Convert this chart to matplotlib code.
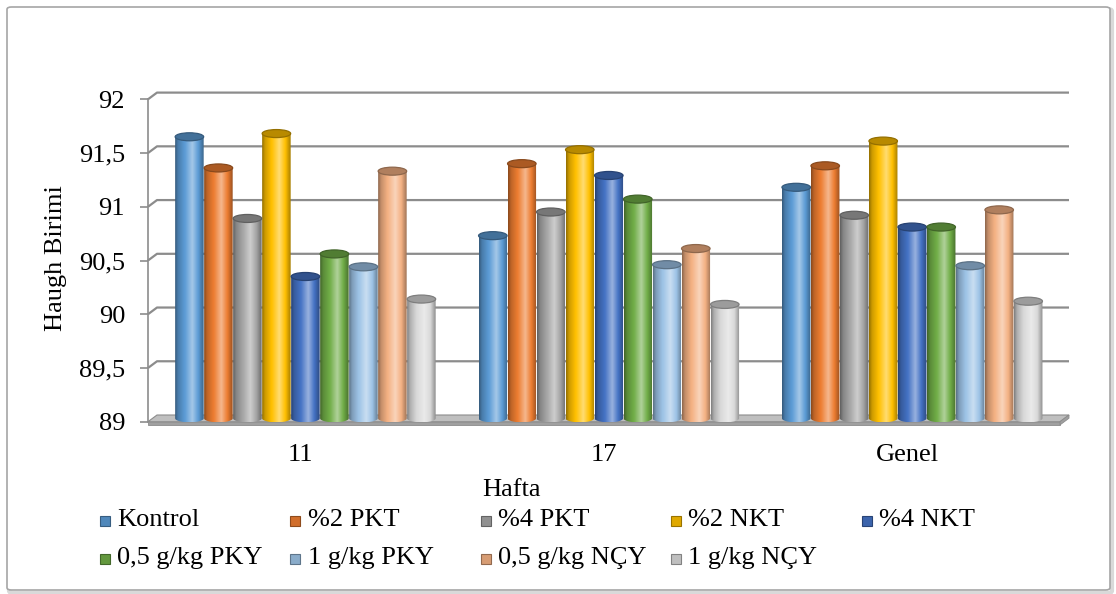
import numpy as np
import matplotlib
matplotlib.use("Agg")
import matplotlib.pyplot as plt
from matplotlib.patches import Ellipse, Polygon, Rectangle, FancyBboxPatch
from matplotlib.colors import to_rgb

plt.rcParams["font.family"] = ["Liberation Serif", "DejaVu Serif"]

# Haugh birimi, haftalara gore
haftalar = ["11", "17", "Genel"]
gruplar = ["Kontrol", "%2 PKT", "%4 PKT", "%2 NKT", "%4 NKT",
           "0,5 g/kg PKY", "1 g/kg PKY", "0,5 g/kg NÇY", "1 g/kg NÇY"]
kontrol = [91.62, 90.70, 91.15]
pkt2 = [91.33, 91.37, 91.35]
pkt4 = [90.86, 90.92, 90.89]
nkt2 = [91.65, 91.50, 91.58]
nkt4 = [90.32, 91.26, 90.78]
pky05 = [90.53, 91.04, 90.78]
pky1 = [90.41, 90.43, 90.42]
ncy05 = [91.30, 90.58, 90.94]
ncy1 = [90.11, 90.06, 90.09]
seriler = [kontrol, pkt2, pkt4, nkt2, nkt4, pky05, pky1, ncy05, ncy1]
renkler = ["#5B9BD5", "#ED7D31", "#A5A5A5", "#FFC000", "#4472C4",
           "#70AD47", "#9DC3E6", "#F4B183", "#D9D9D9"]
y_ticks = [89, 89.5, 90, 90.5, 91, 91.5, 92]
y_etiket = ["89", "89,5", "90", "90,5", "91", "91,5", "92"]

W, H = 1116, 594
FS = 19
fig = plt.figure(figsize=(W / 100, H / 100), dpi=100)

# cerceve
fig.add_artist(FancyBboxPatch((9 / W, 1 - 593 / H), 1103 / W, 584 / H,
                              boxstyle="round,pad=0,rounding_size=0.004",
                              transform=fig.transFigure, fc="none",
                              ec="#d9d9d9", lw=3, zorder=-10))
fig.add_artist(FancyBboxPatch((7 / W, 1 - 590 / H), 1103 / W, 583 / H,
                              boxstyle="round,pad=0,rounding_size=0.004",
                              transform=fig.transFigure, fc="white",
                              ec="#a6a6a6", lw=1.2, zorder=-9))

ax = fig.add_axes([148 / W, 1 - 421.7 / H, 912 / W, 322.4 / H])
ax.set_facecolor("none")
x0, x1 = -0.504, 2.502
y0, y1 = 89, 92
ax.set_xlim(x0, x1)
ax.set_ylim(y0, y1)

# 3B derinlik (veri biriminde)
ddx = 9 / 303.4
ddy = 6.7 / 107.5
grid_c = "#8c8c8c"

# arka duvar cizgileri
for v in y_ticks[1:]:
    ax.plot([x0, x0 + ddx, x1 + ddx], [v, v + ddy, v + ddy],
            color=grid_c, lw=1.6, clip_on=False, zorder=1,
            solid_capstyle="butt")

# taban
ax.add_patch(Polygon([(x0, y0), (x1, y0), (x1 + ddx, y0 + ddy),
                      (x0 + ddx, y0 + ddy)], closed=True, fc="#bfbfbf",
                     ec="#8c8c8c", lw=0.8, clip_on=False, zorder=1.5))
ax.add_patch(Polygon([(x0, y0), (x1, y0), (x1, y0 - 0.03), (x0, y0 - 0.03)],
                     closed=True, fc="#a0a0a0", ec="#8c8c8c", lw=0.6,
                     clip_on=False, zorder=1.5))
ax.add_patch(Polygon([(x1, y0), (x1 + ddx, y0 + ddy), (x1 + ddx, y0 + ddy - 0.03),
                      (x1, y0 - 0.03)], closed=True, fc="#a0a0a0",
                     ec="#8c8c8c", lw=0.6, clip_on=False, zorder=1.5))


def tonla(renk, k):
    r = np.array(to_rgb(renk))
    if k >= 0:
        return r + (1 - r) * k
    return r * (1 + k)


t = np.linspace(0, 1, 80)
profil = np.interp(t, [0, 0.1, 0.35, 0.6, 0.8, 1],
                   [-0.42, -0.2, 0.02, 0.45, 0.02, -0.35])

adim = 29 / 303.4
gen = 0.094
eh = 8 / 107.5
n = len(seriler)
for i, (deger, renk) in enumerate(zip(seriler, renkler)):
    img = np.array([[tonla(renk, k) for k in profil]])
    for g, v in enumerate(deger):
        xc = g + (i - (n - 1) / 2) * adim + ddx / 2
        b = y0 + ddy / 2
        xl, xr = xc - gen / 2, xc + gen / 2
        a = np.linspace(np.pi, 2 * np.pi, 30)
        alt = list(zip(xc + gen / 2 * np.cos(a), b + eh / 2 * np.sin(a)))
        govde = Polygon([(xl, v + ddy / 2), (xl, b)] + alt + [(xr, b), (xr, v + ddy / 2)],
                        closed=True, fc="none", ec="none", clip_on=False)
        ax.add_patch(govde)
        im = ax.imshow(img, extent=(xl, xr, b - eh / 2, v + ddy / 2), aspect="auto",
                       interpolation="bilinear", zorder=3)
        im.set_clip_path(govde)
        ax.add_patch(Ellipse((xc, v + ddy / 2), gen, eh, fc=tonla(renk, -0.28),
                             ec=tonla(renk, -0.42), lw=0.9, zorder=4,
                             clip_on=False))

ax.set_xlim(x0, x1)
ax.set_ylim(y0, y1)

for s in ["top", "right", "bottom"]:
    ax.spines[s].set_visible(False)
ax.spines["left"].set_color(grid_c)
ax.spines["left"].set_linewidth(1.2)
ax.set_yticks(y_ticks)
ax.set_yticklabels(y_etiket, fontsize=FS)
ax.tick_params(axis="y", length=6, width=1.2, color=grid_c, pad=10.5)
ax.set_xticks(range(len(haftalar)))
ax.set_xticklabels(haftalar, fontsize=FS)
ax.tick_params(axis="x", length=0, pad=16)

fig.text(56 / W, 1 - 258 / H, "Haugh Birimi", rotation=90, fontsize=FS,
         ha="center", va="center")
fig.text(511 / W, 1 - 490 / H, "Hafta", fontsize=FS, ha="center",
         va="center")

# gosterge
for i, (ad, renk) in enumerate(zip(gruplar, renkler)):
    satir, sut = divmod(i, 5)
    px = 100 + 190.5 * sut
    py = 521 + 38 * satir
    fig.add_artist(Rectangle((px / W, 1 - (py + 5) / H), 10 / W, 10 / H,
                             transform=fig.transFigure,
                             fc=tonla(renk, -0.12), ec=tonla(renk, -0.4),
                             lw=0.8))
    fig.text((px + 17) / W, 1 - (py - 1) / H, ad, fontsize=FS,
             ha="left", va="center")

fig.savefig("out.png", dpi=100)
